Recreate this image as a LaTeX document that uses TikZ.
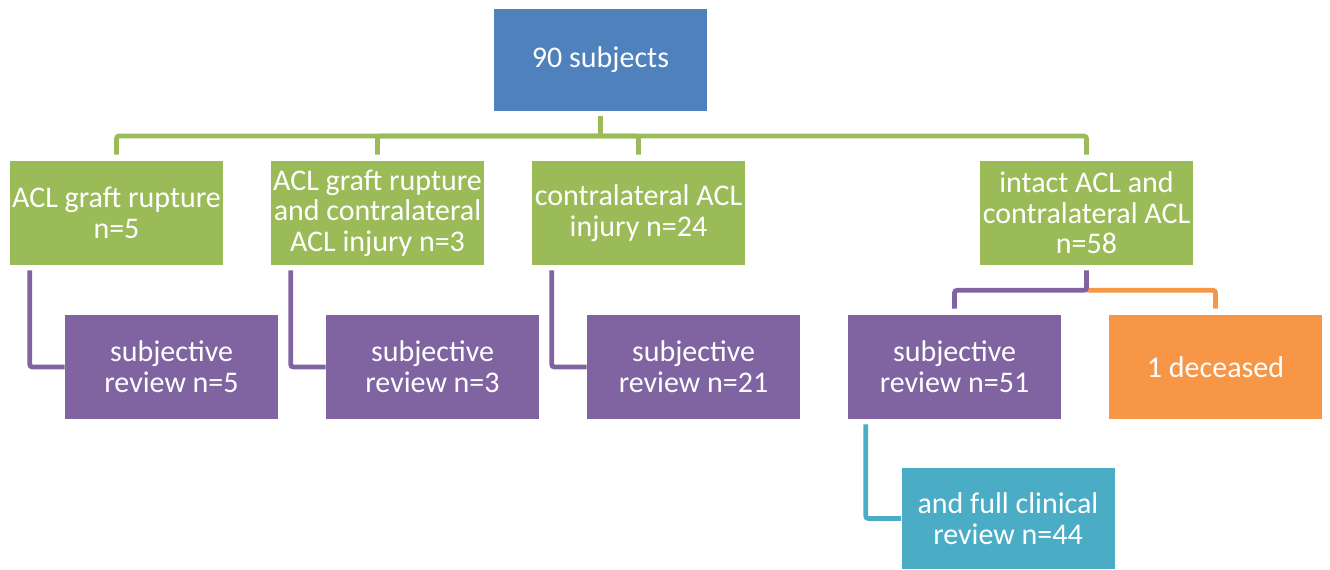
\documentclass[tikz,border=0pt]{standalone}
\usepackage{fontspec}
\setmainfont{Carlito}
\usetikzlibrary{calc}
\definecolor{boxblue}{HTML}{4F81BD}
\definecolor{boxgreen}{HTML}{9BBB59}
\definecolor{boxpurple}{HTML}{8064A2}
\definecolor{boxorange}{HTML}{F79646}
\definecolor{boxteal}{HTML}{4BACC6}

\begin{document}
\begin{tikzpicture}[x=0.75pt,y=-0.75pt,
  every node/.style={font=\fontsize{22.5}{23}\selectfont, text=white, align=center, inner sep=1pt},
  box/.style={minimum width=159.75pt, minimum height=78pt},
  link/.style={line width=3.6pt, rounded corners=2pt}]
\useasboundingbox (0,0) rectangle (1330,569);

% 1. top and first level
\node[box, fill=boxblue, minimum height=76.5pt] (top) at (600.5,60) {90 subjects};
\node[box, fill=boxgreen] (g1) at (116.5,213) {ACL graft rupture\\n=5};
\node[box, fill=boxgreen] (g2) at (377.5,213) {ACL graft rupture\\and contralateral\\ACL injury n=3};
\node[box, fill=boxgreen] (g3) at (638.5,213) {contralateral ACL\\injury n=24};
\node[box, fill=boxgreen] (g4) at (1086.5,213) {intact ACL and\\contralateral ACL\\n=58};

\coordinate (bus) at (600.5,136);
\draw[link, boxgreen, shorten <=3.75pt] (top.south) -- (bus);
\foreach \g in {g1,g2,g3,g4}
  \draw[link, boxgreen, shorten <=4.5pt] (\g.north) |- (bus);

% 2. reviews
\node[box, fill=boxpurple] (p1) at (171.5,367) {subjective\\review n=5};
\node[box, fill=boxpurple] (p2) at (432.5,367) {subjective\\review n=3};
\node[box, fill=boxpurple] (p3) at (693.5,367) {subjective\\review n=21};
\node[box, fill=boxpurple] (p4) at (954.5,367) {subjective\\review n=51};
\node[box, fill=boxorange] (dead) at (1215.5,367) {1 deceased};

\foreach \g/\p in {g1/p1,g2/p2,g3/p3}
  \draw[link, boxpurple, shorten <=3.75pt] ($(\g.south west)+(20,0)$) |- (\p.west);

\coordinate (split) at ($(g4.south)+(0,25)$);
\draw[link, boxorange, shorten <=4.5pt] (dead.north) |- (split);
\draw[link, boxpurple, shorten <=4.5pt, shorten >=3.75pt] (p4.north) |- (split) -- (g4.south);

% 3. clinical
\node[box, fill=boxteal, minimum height=75.75pt] (full) at (1008,518.5) {and full clinical\\review n=44};
\draw[link, boxteal, shorten <=3.75pt] ($(p4.south west)+(18,0)$) |- (full.west);
\end{tikzpicture}
\end{document}
